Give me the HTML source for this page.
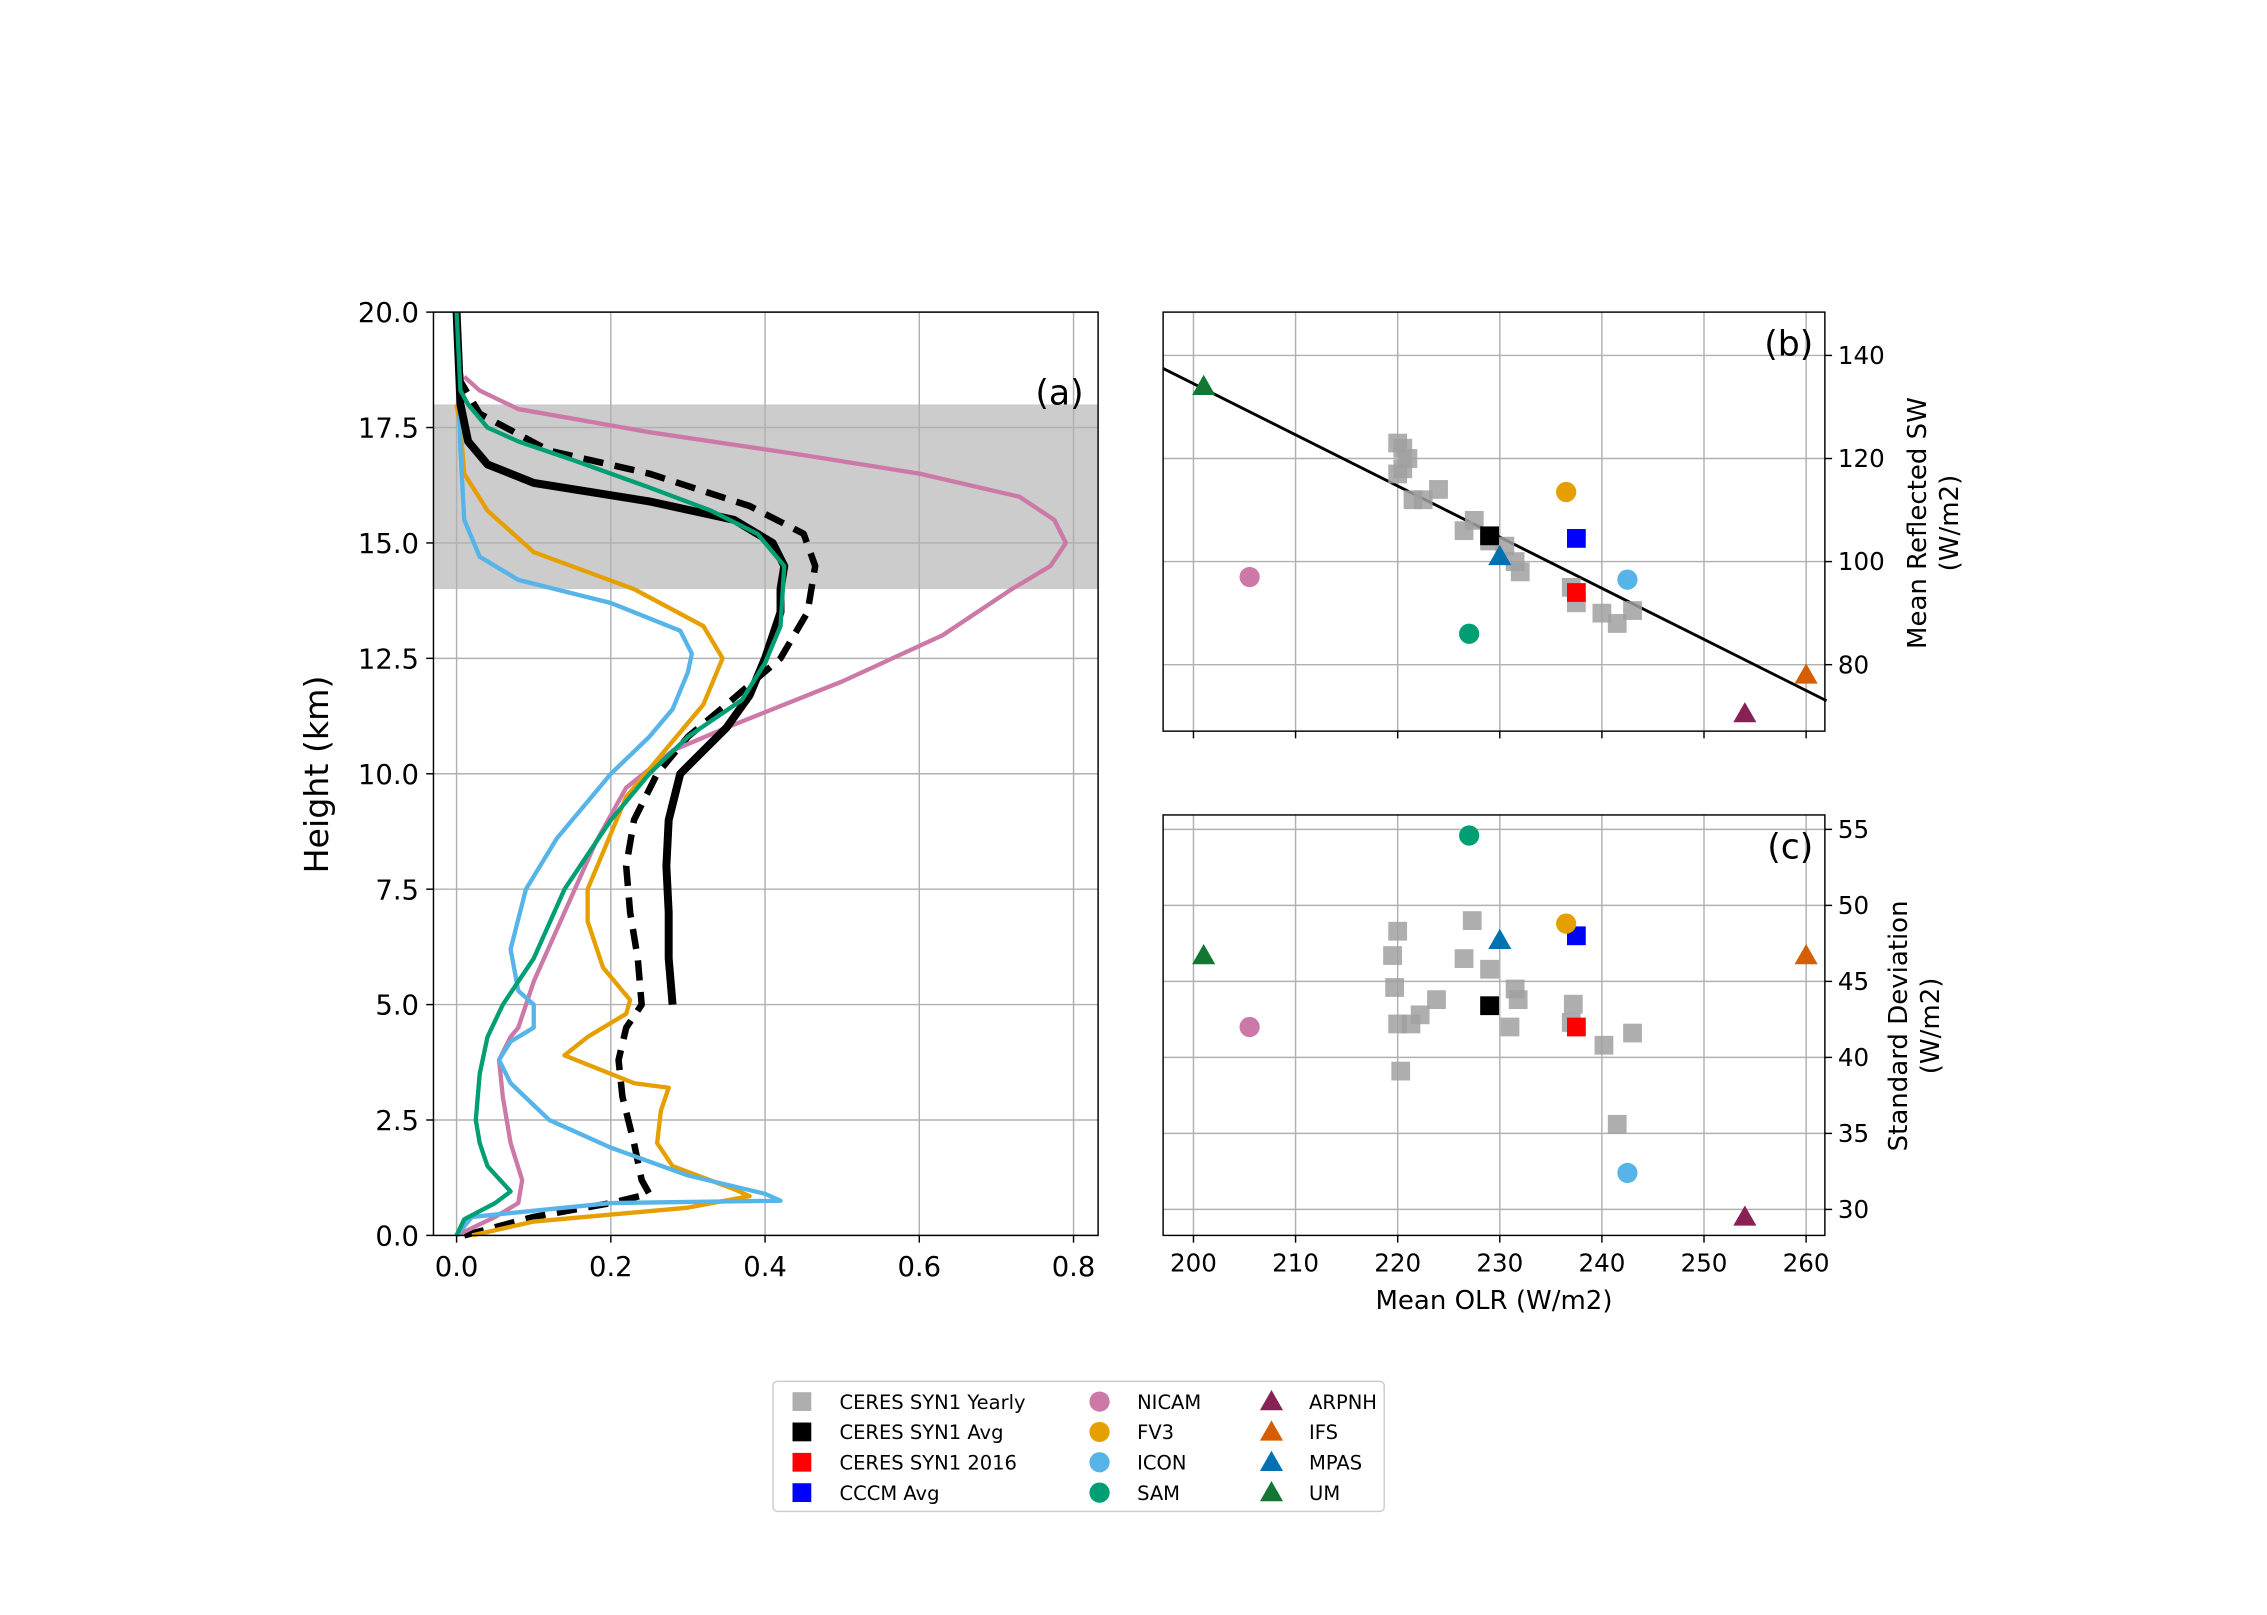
<!DOCTYPE html>
<html><head><meta charset="utf-8"><style>
html,body{margin:0;padding:0;background:#fff;}
svg{display:block;font-family:"DejaVu Sans","Liberation Sans",sans-serif;}
</style></head><body>
<svg id="chart" width="2267" height="1615" viewBox="0 0 1569 1117.7" preserveAspectRatio="none" xmlns="http://www.w3.org/2000/svg">
<g id="pa"></g>
<g id="pb"></g>
<g id="pc"></g>
<g id="lg"></g>
</svg>
<script>
const profileNames = ["SYN1 Avg","SYN1 2016","NICAM","FV3","ICON","SAM"];
const synAvg = [[0.28,5],[0.275,6],[0.275,7],[0.272,8],[0.275,9],[0.29,10],[0.32,10.5],[0.35,11],[0.38,11.7],[0.40,12.5],[0.42,13.5],[0.42,14.0],[0.425,14.5],[0.41,15],[0.36,15.5],[0.25,15.9],[0.1,16.3],[0.04,16.7],[0.015,17.2],[0.005,18],[0,20]];
const synDash = [[0.01,0],[0.1,0.4],[0.2,0.7],[0.25,0.9],[0.24,1.2],[0.23,2],[0.215,3],[0.21,3.8],[0.22,4.5],[0.24,5],[0.235,6],[0.225,7],[0.22,8],[0.23,9],[0.26,10],[0.3,10.8],[0.35,11.5],[0.42,12.5],[0.455,13.5],[0.465,14.5],[0.45,15.2],[0.38,15.8],[0.25,16.5],[0.12,17.0],[0.03,17.8],[0.005,18.5],[0,20]];
const nicamP = [[0,0],[0.05,0.4],[0.08,0.7],[0.085,1.2],[0.07,2],[0.06,3],[0.055,3.8],[0.07,4.3],[0.08,4.5],[0.1,5.5],[0.14,7],[0.18,8.5],[0.22,9.7],[0.28,10.5],[0.35,11],[0.5,12],[0.63,13],[0.72,14],[0.77,14.5],[0.79,15],[0.775,15.5],[0.73,16],[0.6,16.5],[0.45,16.9],[0.25,17.4],[0.08,17.9],[0.03,18.3],[0.01,18.6]];
const fv3P = [[0.02,0],[0.1,0.3],[0.3,0.6],[0.38,0.85],[0.36,1.0],[0.28,1.5],[0.26,2],[0.265,2.7],[0.275,3.2],[0.23,3.3],[0.14,3.9],[0.17,4.3],[0.22,4.8],[0.225,5.1],[0.19,5.8],[0.17,6.8],[0.17,7.5],[0.19,8.3],[0.22,9.5],[0.27,10.5],[0.32,11.5],[0.345,12.5],[0.32,13.2],[0.23,14],[0.1,14.8],[0.04,15.7],[0.01,16.5],[0.005,17.5],[0,18]];
const iconP = [[0,0],[0.02,0.4],[0.2,0.7],[0.42,0.75],[0.4,0.9],[0.3,1.3],[0.2,1.9],[0.12,2.5],[0.07,3.3],[0.055,3.8],[0.07,4.2],[0.1,4.5],[0.1,5.0],[0.08,5.3],[0.07,6.2],[0.09,7.5],[0.13,8.6],[0.2,10],[0.25,10.8],[0.28,11.4],[0.3,12.2],[0.305,12.6],[0.29,13.1],[0.2,13.7],[0.08,14.2],[0.03,14.7],[0.01,15.5],[0.005,17],[0,20]];
const samP = [[0,0],[0.01,0.35],[0.05,0.7],[0.07,0.95],[0.04,1.5],[0.03,2],[0.025,2.5],[0.03,3.5],[0.04,4.3],[0.06,5],[0.1,6],[0.14,7.5],[0.2,9],[0.25,10],[0.3,10.8],[0.37,11.6],[0.4,12.4],[0.42,13.2],[0.425,14.5],[0.39,15.2],[0.33,15.7],[0.25,16.2],[0.15,16.8],[0.08,17.2],[0.04,17.5],[0.015,18],[0.005,18.3],[0,20]];
const aXTicks = [0,0.2,0.4,0.6,0.8];
const aXLabels = ["0.0","0.2","0.4","0.6","0.8"];
const aYTicks = [0,2.5,5,7.5,10,12.5,15,17.5,20];
const aYLabels = ["0.0","2.5","5.0","7.5","10.0","12.5","15.0","17.5","20.0"];
const ttlBand = [14,18];

const grayOLR = [220,220.5,221,220.5,220,221.5,222.5,224,226.5,227.5,229,230.5,231.5,232,237,237.5,240,241.5,243];
const graySW  = [123,122,120,118,117,112,112,114,106,108,104,103,100,98,95,92,90,88,90.5];
const graySD  = [48.3,46.7,44.6,42.2,42.2,42.8,43.8,39.1,46.5,49,45.8,44.5,43.8,42,43.5,42.3,40.8,35.6,41.6];
const grayOLRc = [220,219.5,219.7,220,221.3,222.2,223.8,220.3,226.5,227.3,229,231.5,231.8,231,237.2,237,240.2,241.5,243];
const modelNames = ["CERES SYN1 Avg","CCCM Avg","CERES SYN1 2016","FV3","ICON","SAM","NICAM","ARPNH","IFS","MPAS","UM"];
const modelOLR = [229,237.5,237.5,236.5,242.5,227,205.5,254,260,230,201];
const modelSW  = [105,104.5,94,113.5,96.5,86,97,70.5,78,101,134];
const modelSD  = [43.4,48,42,48.8,32.4,54.6,42,29.5,46.7,47.7,46.7];
const fitLine = [[197,137.5],[262,73]];
const olrTicks = [200,210,220,230,240,250,260];
const swTicks = [80,100,120,140];
const sdTicks = [30,35,40,45,50,55];

const NS="http://www.w3.org/2000/svg";
function mk(tag,attrs,parent,txt){const e=document.createElementNS(NS,tag);for(const k in attrs)e.setAttribute(k,attrs[k]);if(txt!==undefined)e.textContent=txt;parent.appendChild(e);return e;}

const pa=document.getElementById('pa');
const ax=v=>316+v*533.75, ay=h=>855-h*31.95;
let r=mk('rect',{x:300,y:216,width:460,height:639,fill:'#fff'},pa);

r=mk('rect',{x:300,y:ay(ttlBand[1]),width:460,height:ay(ttlBand[0])-ay(ttlBand[1]),fill:'#cccccc'},pa);

aXTicks.forEach((t,i)=>{
  let l=mk('line',{x1:ax(t),x2:ax(t),y1:216,y2:855,stroke:'#b0b0b0','stroke-width':1},pa);
  
  mk('line',{x1:ax(t),x2:ax(t),y1:855,y2:860,stroke:'#000'},pa);
  let tx=mk('text',{x:ax(t),y:883,'font-size':19,'text-anchor':'middle'},pa,aXLabels[i]);
  
});
aYTicks.forEach((t,i)=>{
  let l=mk('line',{x1:300,x2:760,y1:ay(t),y2:ay(t),stroke:'#b0b0b0','stroke-width':1},pa);
  
  mk('line',{x1:295,x2:300,y1:ay(t),y2:ay(t),stroke:'#000'},pa);
  let tx=mk('text',{x:290,y:ay(t)+7,'font-size':19,'text-anchor':'end'},pa,aYLabels[i]);
  
});
const profs=[[synDash,'#000',4.5,'14,8'],[nicamP,'#cc79a7',3,null],[fv3P,'#e69f00',3,null],[iconP,'#56b4e9',3,null],[synAvg,'#000',5.5,null],[samP,'#009e73',3,null]];
const pnames=['syn1-2016-profile','nicam-profile','fv3-profile','icon-profile','syn1-avg-profile','sam-profile'];
profs.forEach((p,i)=>{
  const d=p[0].map((q,j)=>(j?'L':'M')+ax(q[0]).toFixed(1)+','+ay(q[1]).toFixed(1)).join(' ');
  const a={d:d,fill:'none',stroke:p[1],'stroke-width':p[2],'stroke-linejoin':'round'};
  if(p[3])a['stroke-dasharray']=p[3];
  let e=mk('path',a,pa);
  
});
r=mk('rect',{x:300,y:216,width:460,height:639,fill:'none',stroke:'#000','stroke-width':1},pa);

let t=mk('text',{x:750,y:280,'font-size':24,'text-anchor':'end'},pa,'(a)');

t=mk('text',{x:227,y:536,'font-size':23,'text-anchor':'middle',transform:'rotate(-90 227 536)'},pa,'Height (km)');


const sx=v=>826+(v-200)*7.067;
const colors=['#000','#0000ff','#ff0000','#e69f00','#56b4e9','#009e73','#cc79a7','#882255','#d55e00','#0072b2','#117733'];
const shapes=['s','s','s','c','c','c','c','t','t','t','t'];
function marker(g,shape,x,y,col,op){
  let e;
  if(shape==='s')e=mk('rect',{x:x-6.5,y:y-6.5,width:13,height:13,fill:col,opacity:op||1},g);
  else if(shape==='c')e=mk('circle',{cx:x,cy:y,r:7,fill:col},g);
  else e=mk('polygon',{points:`${x},${y-8} ${x+8},${y+6} ${x-8},${y+6}`,fill:col},g);
  return e;
}
function scatter(g,top,bot,yf,yt,showX){
  mk('rect',{x:805,y:top,width:458,height:bot-top,fill:'#fff'},g);
  olrTicks.forEach(v=>{
    let l=mk('line',{x1:sx(v),x2:sx(v),y1:top,y2:bot,stroke:'#b0b0b0'},g);
    
    mk('line',{x1:sx(v),x2:sx(v),y1:bot,y2:bot+5,stroke:'#000'},g);
    if(showX){let tx=mk('text',{x:sx(v),y:bot+25,'font-size':17,'text-anchor':'middle'},g,String(v));
      }
  });
  yt.forEach(v=>{
    let l=mk('line',{x1:805,x2:1263,y1:yf(v),y2:yf(v),stroke:'#b0b0b0'},g);
    
    mk('line',{x1:1263,x2:1268,y1:yf(v),y2:yf(v),stroke:'#000'},g);
    let tx=mk('text',{x:1272,y:yf(v)+6,'font-size':17},g,String(v));
    
  });
}
const pb=document.getElementById('pb');
const by=v=>460-(v-80)*3.567;
scatter(pb,216,506,by,swTicks,false);
let fl=mk('line',{x1:sx(fitLine[0][0]),y1:by(fitLine[0][1]),x2:sx(fitLine[1][0]),y2:by(fitLine[1][1]),stroke:'#000','stroke-width':2},pb);

const pc=document.getElementById('pc');
const cy=v=>837-(v-30)*10.52;
scatter(pc,564,855,cy,sdTicks,true);
[[pb,grayOLR,graySW,by,modelSW],[pc,grayOLRc,graySD,cy,modelSD]].forEach(s=>{
  const [g,gx,gy,yf,my]=s;
  gx.forEach((v,i)=>{let e=marker(g,'s',sx(v),yf(gy[i]),'#a0a0a0',0.85);
    });
  modelOLR.forEach((v,i)=>{let e=marker(g,shapes[i],sx(v),yf(my[i]),colors[i]);
    });
});
r=mk('rect',{x:805,y:216,width:458,height:290,fill:'none',stroke:'#000'},pb);

r=mk('rect',{x:805,y:564,width:458,height:291,fill:'none',stroke:'#000'},pc);

t=mk('text',{x:1255,y:246,'font-size':24,'text-anchor':'end'},pb,'(b)');

t=mk('text',{x:1255,y:594,'font-size':24,'text-anchor':'end'},pc,'(c)');

t=mk('text',{x:0,y:0,'font-size':18,'text-anchor':'middle',transform:'translate(1333 362) rotate(-90)'},pb);

mk('tspan',{x:0,dy:0},t,'Mean Reflected SW');mk('tspan',{x:0,dy:22},t,'(W/m2)');
t=mk('text',{x:0,y:0,'font-size':18,'text-anchor':'middle',transform:'translate(1320 710) rotate(-90)'},pc);

mk('tspan',{x:0,dy:0},t,'Standard Deviation');mk('tspan',{x:0,dy:22},t,'(W/m2)');
t=mk('text',{x:1034,y:906,'font-size':18,'text-anchor':'middle'},pc,'Mean OLR (W/m2)');


const lg=document.getElementById('lg');
r=mk('rect',{x:535,y:956,width:423,height:90,fill:'#fff',stroke:'#ccc',rx:3},lg);

const legItems=[
 [555,'s','#a0a0a0','CERES SYN1 Yearly'],[555,'s','#000','CERES SYN1 Avg'],[555,'s','#ff0000','CERES SYN1 2016'],[555,'s','#0000ff','CCCM Avg'],
 [761,'c','#cc79a7','NICAM'],[761,'c','#e69f00','FV3'],[761,'c','#56b4e9','ICON'],[761,'c','#009e73','SAM'],
 [880,'t','#882255','ARPNH'],[880,'t','#d55e00','IFS'],[880,'t','#0072b2','MPAS'],[880,'t','#117733','UM']];
legItems.forEach((it,i)=>{
  const y=970+(i%4)*21;
  const g=mk('g',{},lg);
  
  marker(g,it[1],it[0],y,it[2],it[2]==='#a0a0a0'?0.85:1);
  mk('text',{x:it[0]+26,y:y+5,'font-size':13.5},g,it[3]);
});
</script>
</body></html>
